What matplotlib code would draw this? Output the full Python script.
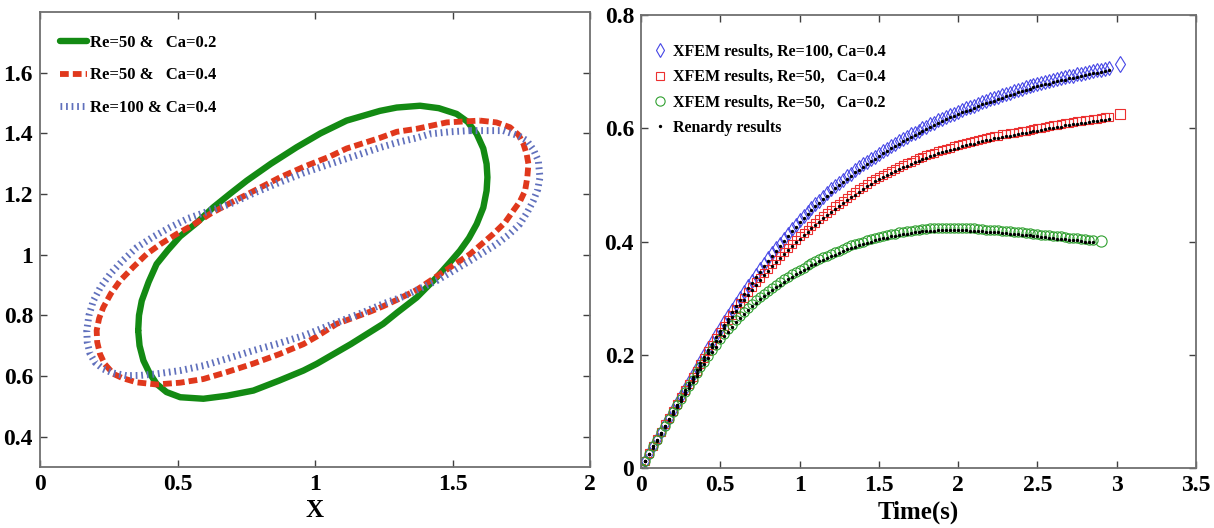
import matplotlib
matplotlib.use("Agg")
import matplotlib.pyplot as plt

plt.rcParams['font.family'] = ['Liberation Serif', 'DejaVu Serif']
plt.rcParams['font.weight'] = 'bold'

# ---------------- left panel: drop shapes ----------------
green_x = [0.357, 0.362, 0.376, 0.398, 0.424, 0.460, 0.510, 0.594, 0.680, 0.776, 0.870, 0.958, 1.006, 1.130, 1.248,
           1.300, 1.370, 1.442, 1.491, 1.527, 1.560, 1.588, 1.612, 1.624, 1.627, 1.624, 1.612, 1.588, 1.555, 1.515,
           1.450, 1.382, 1.297, 1.236, 1.115, 1.020, 0.933, 0.840, 0.752, 0.690, 0.630, 0.570, 0.509, 0.465, 0.424,
           0.395, 0.370, 0.360, 0.357]
green_y = [0.750, 0.700, 0.651, 0.610, 0.574, 0.547, 0.530, 0.525, 0.535, 0.552, 0.585, 0.618, 0.640, 0.705, 0.772,
           0.810, 0.859, 0.925, 0.975, 1.013, 1.055, 1.101, 1.155, 1.211, 1.255, 1.299, 1.350, 1.398, 1.438, 1.464,
           1.483, 1.491, 1.485, 1.474, 1.442, 1.400, 1.354, 1.300, 1.244, 1.200, 1.156, 1.105, 1.060, 1.015, 0.969,
           0.910, 0.848, 0.800, 0.750]

red_x = [1.600, 1.660, 1.709, 1.740, 1.758, 1.770, 1.776, 1.772, 1.764, 1.745, 1.721, 1.690, 1.648, 1.564, 1.455,
         1.370, 1.300, 1.248, 1.200, 1.079, 1.006, 0.958, 0.870, 0.776, 0.680, 0.594, 0.510, 0.424, 0.352, 0.300,
         0.267, 0.235, 0.218, 0.208, 0.206, 0.215, 0.230, 0.258, 0.291, 0.340, 0.388, 0.440, 0.497, 0.560, 0.618,
         0.691, 0.788, 0.873, 0.960, 1.055, 1.115, 1.236, 1.297, 1.370, 1.479, 1.600]
red_y = [1.442, 1.436, 1.420, 1.395, 1.365, 1.330, 1.299, 1.255, 1.211, 1.175, 1.145, 1.105, 1.068, 1.002, 0.936,
         0.884, 0.852, 0.830, 0.812, 0.772, 0.730, 0.705, 0.672, 0.641, 0.613, 0.590, 0.578, 0.572, 0.579, 0.593,
         0.607, 0.640, 0.673, 0.712, 0.750, 0.790, 0.826, 0.872, 0.914, 0.960, 1.002, 1.036, 1.068, 1.100, 1.134,
         1.170, 1.215, 1.255, 1.290, 1.324, 1.350, 1.385, 1.405, 1.415, 1.436, 1.442]

blue_x = [1.564, 1.685, 1.740, 1.770, 1.795, 1.812, 1.818, 1.810, 1.794, 1.772, 1.745, 1.705, 1.661, 1.564, 1.442,
          1.321, 1.248, 1.176, 1.055, 1.006, 0.958, 0.870, 0.776, 0.680, 0.594, 0.510, 0.424, 0.365, 0.315, 0.265,
          0.230, 0.200, 0.182, 0.172, 0.170, 0.178, 0.194, 0.220, 0.255, 0.300, 0.352, 0.410, 0.473, 0.540, 0.618,
          0.691, 0.780, 0.873, 0.960, 1.055, 1.150, 1.236, 1.300, 1.370, 1.418, 1.490, 1.564]
blue_y = [1.409, 1.409, 1.392, 1.376, 1.345, 1.310, 1.255, 1.215, 1.178, 1.140, 1.101, 1.066, 1.035, 0.980, 0.914,
          0.862, 0.838, 0.810, 0.768, 0.750, 0.733, 0.708, 0.684, 0.657, 0.634, 0.618, 0.607, 0.602, 0.601, 0.610,
          0.623, 0.645, 0.673, 0.710, 0.750, 0.800, 0.848, 0.893, 0.936, 0.980, 1.024, 1.058, 1.090, 1.120, 1.145,
          1.167, 1.204, 1.239, 1.270, 1.299, 1.327, 1.353, 1.370, 1.385, 1.398, 1.405, 1.409]

left_labels = ['Re=50 &   Ca=0.2', 'Re=50 &   Ca=0.4', 'Re=100 & Ca=0.4']
left_xticks = [0, 0.5, 1, 1.5, 2]
left_xticklabels = ['0', '0.5', '1', '1.5', '2']
left_yticks = [0.4, 0.6, 0.8, 1.0, 1.2, 1.4, 1.6]
left_yticklabels = ['0.4', '0.6', '0.8', '1', '1.2', '1.4', '1.6']

# ---------------- right panel: deformation vs time ----------------
T = [0.000, 0.025, 0.050, 0.075, 0.100, 0.125, 0.150, 0.175, 0.200, 0.225,
     0.250, 0.275, 0.300, 0.325, 0.350, 0.375, 0.400, 0.425, 0.450, 0.475,
     0.500, 0.525, 0.550, 0.575, 0.600, 0.625, 0.650, 0.675, 0.700, 0.725,
     0.750, 0.775, 0.800, 0.825, 0.850, 0.875, 0.900, 0.925, 0.950, 0.975,
     1.000, 1.025, 1.050, 1.075, 1.100, 1.125, 1.150, 1.175, 1.200, 1.225,
     1.250, 1.275, 1.300, 1.325, 1.350, 1.375, 1.400, 1.425, 1.450, 1.475,
     1.500, 1.525, 1.550, 1.575, 1.600, 1.625, 1.650, 1.675, 1.700, 1.725,
     1.750, 1.775, 1.800, 1.825, 1.850, 1.875, 1.900, 1.925, 1.950, 1.975,
     2.000, 2.025, 2.050, 2.075, 2.100, 2.125, 2.150, 2.175, 2.200, 2.225,
     2.250, 2.275, 2.300, 2.325, 2.350, 2.375, 2.400, 2.425, 2.450, 2.475,
     2.500, 2.525, 2.550, 2.575, 2.600, 2.625, 2.650, 2.675, 2.700, 2.725,
     2.750, 2.775, 2.800, 2.825, 2.850, 2.875, 2.900, 2.925, 2.950]

xfem_re100_ca04 = [0.000, 0.013, 0.026, 0.039, 0.052, 0.064, 0.077, 0.089, 0.102, 0.114,
                   0.127, 0.139, 0.152, 0.164, 0.176, 0.188, 0.200, 0.212, 0.223, 0.235,
                   0.246, 0.257, 0.268, 0.279, 0.290, 0.300, 0.311, 0.321, 0.331, 0.341,
                   0.351, 0.360, 0.370, 0.379, 0.388, 0.396, 0.405, 0.413, 0.422, 0.430,
                   0.438, 0.445, 0.452, 0.459, 0.466, 0.472, 0.479, 0.485, 0.492, 0.498,
                   0.504, 0.509, 0.515, 0.520, 0.526, 0.531, 0.536, 0.541, 0.546, 0.550,
                   0.555, 0.560, 0.564, 0.569, 0.573, 0.577, 0.581, 0.585, 0.589, 0.592,
                   0.596, 0.600, 0.603, 0.607, 0.610, 0.614, 0.617, 0.620, 0.623, 0.626,
                   0.629, 0.632, 0.635, 0.637, 0.640, 0.643, 0.646, 0.648, 0.651, 0.653,
                   0.656, 0.658, 0.661, 0.663, 0.665, 0.668, 0.670, 0.672, 0.674, 0.676,
                   0.678, 0.680, 0.682, 0.683, 0.685, 0.687, 0.689, 0.690, 0.692, 0.693,
                   0.695, 0.696, 0.698, 0.699, 0.701, 0.702, 0.703, 0.705, 0.706]
xfem_re50_ca04 = [0.000, 0.013, 0.026, 0.039, 0.052, 0.064, 0.077, 0.089, 0.101, 0.113,
                  0.125, 0.137, 0.149, 0.161, 0.172, 0.184, 0.195, 0.207, 0.218, 0.229,
                  0.240, 0.251, 0.261, 0.271, 0.281, 0.291, 0.300, 0.310, 0.319, 0.328,
                  0.336, 0.344, 0.352, 0.360, 0.367, 0.375, 0.382, 0.389, 0.396, 0.403,
                  0.409, 0.415, 0.421, 0.427, 0.433, 0.439, 0.445, 0.451, 0.456, 0.462,
                  0.467, 0.472, 0.477, 0.482, 0.487, 0.492, 0.497, 0.502, 0.506, 0.510,
                  0.514, 0.518, 0.521, 0.525, 0.528, 0.532, 0.535, 0.538, 0.541, 0.544,
                  0.547, 0.550, 0.552, 0.555, 0.557, 0.560, 0.562, 0.564, 0.566, 0.568,
                  0.570, 0.572, 0.574, 0.576, 0.577, 0.579, 0.581, 0.583, 0.584, 0.586,
                  0.587, 0.589, 0.590, 0.591, 0.592, 0.594, 0.595, 0.596, 0.597, 0.599,
                  0.600, 0.601, 0.602, 0.604, 0.605, 0.606, 0.607, 0.609, 0.610, 0.611,
                  0.612, 0.613, 0.614, 0.615, 0.616, 0.617, 0.618, 0.619, 0.620]
xfem_re50_ca02 = [0.000, 0.013, 0.025, 0.038, 0.050, 0.063, 0.075, 0.087, 0.099, 0.111,
                  0.122, 0.134, 0.145, 0.156, 0.167, 0.178, 0.188, 0.198, 0.208, 0.218,
                  0.228, 0.237, 0.245, 0.253, 0.261, 0.269, 0.276, 0.283, 0.290, 0.296,
                  0.302, 0.308, 0.313, 0.318, 0.323, 0.328, 0.333, 0.338, 0.342, 0.346,
                  0.350, 0.354, 0.358, 0.362, 0.365, 0.369, 0.372, 0.375, 0.378, 0.381,
                  0.384, 0.387, 0.390, 0.393, 0.395, 0.398, 0.400, 0.402, 0.404, 0.406,
                  0.408, 0.410, 0.411, 0.413, 0.414, 0.416, 0.417, 0.418, 0.419, 0.420,
                  0.421, 0.422, 0.422, 0.423, 0.423, 0.424, 0.424, 0.424, 0.424, 0.424,
                  0.424, 0.424, 0.424, 0.423, 0.423, 0.422, 0.422, 0.421, 0.421, 0.420,
                  0.420, 0.419, 0.419, 0.418, 0.417, 0.417, 0.416, 0.415, 0.415, 0.414,
                  0.413, 0.412, 0.412, 0.411, 0.410, 0.409, 0.409, 0.408, 0.407, 0.406,
                  0.406, 0.405, 0.404, 0.403, 0.403]

# last (isolated) XFEM markers
end_t = [3.02, 3.02, 2.90]
end_v = [0.713, 0.625, 0.401]

renardy_re100_ca04 = [0.000, 0.012, 0.025, 0.038, 0.050, 0.062, 0.075, 0.087, 0.100, 0.112,
                      0.125, 0.137, 0.150, 0.161, 0.173, 0.185, 0.196, 0.208, 0.219, 0.231,
                      0.242, 0.253, 0.264, 0.275, 0.286, 0.296, 0.307, 0.317, 0.327, 0.337,
                      0.347, 0.356, 0.366, 0.375, 0.384, 0.392, 0.401, 0.409, 0.418, 0.426,
                      0.434, 0.441, 0.448, 0.455, 0.462, 0.468, 0.475, 0.481, 0.488, 0.494,
                      0.500, 0.505, 0.511, 0.516, 0.522, 0.527, 0.532, 0.537, 0.542, 0.546,
                      0.551, 0.556, 0.560, 0.565, 0.569, 0.573, 0.577, 0.581, 0.585, 0.588,
                      0.592, 0.596, 0.599, 0.603, 0.606, 0.610, 0.613, 0.616, 0.619, 0.622,
                      0.625, 0.628, 0.631, 0.633, 0.636, 0.639, 0.642, 0.644, 0.647, 0.649,
                      0.652, 0.654, 0.657, 0.659, 0.661, 0.664, 0.666, 0.668, 0.670, 0.672,
                      0.674, 0.676, 0.678, 0.679, 0.681, 0.683, 0.685, 0.686, 0.688, 0.689,
                      0.691, 0.692, 0.694, 0.695, 0.697, 0.698, 0.699, 0.701, 0.702]
renardy_re50_ca04 = [0.000, 0.012, 0.025, 0.038, 0.050, 0.062, 0.075, 0.087, 0.099, 0.111,
                     0.122, 0.134, 0.146, 0.157, 0.168, 0.180, 0.191, 0.203, 0.214, 0.225,
                     0.236, 0.247, 0.257, 0.267, 0.277, 0.287, 0.296, 0.306, 0.315, 0.324,
                     0.332, 0.340, 0.348, 0.356, 0.363, 0.371, 0.378, 0.385, 0.392, 0.399,
                     0.405, 0.411, 0.417, 0.423, 0.429, 0.435, 0.441, 0.447, 0.452, 0.458,
                     0.463, 0.468, 0.473, 0.478, 0.483, 0.488, 0.493, 0.498, 0.502, 0.506,
                     0.510, 0.514, 0.517, 0.521, 0.524, 0.528, 0.531, 0.534, 0.537, 0.540,
                     0.543, 0.546, 0.548, 0.551, 0.553, 0.556, 0.558, 0.560, 0.562, 0.564,
                     0.566, 0.568, 0.570, 0.572, 0.573, 0.575, 0.577, 0.579, 0.580, 0.582,
                     0.583, 0.585, 0.586, 0.587, 0.588, 0.590, 0.591, 0.592, 0.593, 0.595,
                     0.596, 0.597, 0.598, 0.600, 0.601, 0.602, 0.603, 0.605, 0.606, 0.607,
                     0.608, 0.609, 0.610, 0.611, 0.612, 0.613, 0.614, 0.615, 0.616]
renardy_re50_ca02 = [0.000, 0.012, 0.024, 0.036, 0.048, 0.060, 0.072, 0.084, 0.096, 0.107,
                     0.118, 0.130, 0.141, 0.152, 0.163, 0.174, 0.184, 0.194, 0.204, 0.214,
                     0.224, 0.233, 0.241, 0.249, 0.257, 0.265, 0.272, 0.279, 0.286, 0.292,
                     0.298, 0.304, 0.309, 0.314, 0.319, 0.324, 0.329, 0.334, 0.338, 0.342,
                     0.346, 0.350, 0.354, 0.358, 0.361, 0.365, 0.368, 0.371, 0.374, 0.377,
                     0.380, 0.383, 0.386, 0.389, 0.391, 0.394, 0.396, 0.398, 0.400, 0.402,
                     0.404, 0.406, 0.407, 0.409, 0.410, 0.412, 0.413, 0.414, 0.415, 0.416,
                     0.417, 0.418, 0.418, 0.419, 0.419, 0.420, 0.420, 0.420, 0.420, 0.420,
                     0.420, 0.420, 0.420, 0.419, 0.419, 0.418, 0.418, 0.417, 0.417, 0.416,
                     0.416, 0.415, 0.415, 0.414, 0.413, 0.413, 0.412, 0.411, 0.411, 0.410,
                     0.409, 0.408, 0.408, 0.407, 0.406, 0.405, 0.405, 0.404, 0.403, 0.402,
                     0.402, 0.401, 0.400, 0.399, 0.399]

right_labels = ['XFEM results, Re=100, Ca=0.4', 'XFEM results, Re=50,   Ca=0.4',
                'XFEM results, Re=50,   Ca=0.2', 'Renardy results']
right_xticks = [0, 0.5, 1, 1.5, 2, 2.5, 3, 3.5]
right_xticklabels = ['0', '0.5', '1', '1.5', '2', '2.5', '3', '3.5']
right_yticks = [0, 0.2, 0.4, 0.6, 0.8]
right_yticklabels = ['0', '0.2', '0.4', '0.6', '0.8']

# ---------------- figure ----------------
fig = plt.figure(figsize=(12.14, 5.28), dpi=100)
axL = fig.add_axes([40 / 1214, 61 / 528, 550 / 1214, 455 / 528])
axR = fig.add_axes([641 / 1214, 60 / 528, 555 / 1214, 453 / 528])

spine_col = '#707070'
for ax in (axL, axR):
    for s in ax.spines.values():
        s.set_color(spine_col)
        s.set_linewidth(1.3)
    ax.tick_params(direction='in', top=True, right=True, length=5, width=1, color='#404040',
                   labelsize=17, pad=5)

axL.plot(green_x, green_y, color='#138a13', lw=4.6, solid_capstyle='round', solid_joinstyle='round',
         label=left_labels[0])
axL.plot(red_x, red_y, color='#e0381c', lw=4.2, linestyle=(0, (1.5, 0.7)), dash_capstyle='butt',
         label=left_labels[1])
axL.plot(blue_x, blue_y, color='#6070bc', lw=5.0, linestyle=(0, (0.25, 0.55)), dash_capstyle='butt',
         label=left_labels[2])
axL.set_xlim(0, 2)
axL.set_ylim(0.3, 1.8)
axL.set_xticks(left_xticks)
axL.set_xticklabels(left_xticklabels)
axL.set_yticks(left_yticks)
axL.set_yticklabels(left_yticklabels)
axL.set_xlabel('X', fontsize=18, fontweight='bold', labelpad=3)
axL.legend(loc='upper left', frameon=False, fontsize=12, handlelength=1.65, handletextpad=0.15,
           labelspacing=1.0, borderaxespad=0, borderpad=0, bbox_to_anchor=(0.036, 0.95))

ms = 7
mew = 0.8
c_blue, c_red, c_green = '#4646e6', '#ec3030', '#30a030'
axR.plot(T[:len(xfem_re100_ca04)], xfem_re100_ca04, linestyle='none', marker='d', markersize=ms,
         markerfacecolor='none', markeredgecolor=c_blue, markeredgewidth=mew, label=right_labels[0])
axR.plot(T[:len(xfem_re50_ca04)], xfem_re50_ca04, linestyle='none', marker='s', markersize=ms * 0.85,
         markerfacecolor='none', markeredgecolor=c_red, markeredgewidth=mew, label=right_labels[1])
axR.plot(T[:len(xfem_re50_ca02)], xfem_re50_ca02, linestyle='none', marker='o', markersize=ms * 0.95,
         markerfacecolor='none', markeredgecolor=c_green, markeredgewidth=mew, label=right_labels[2])
axR.plot([end_t[0]], [end_v[0]], linestyle='none', marker='d', markersize=ms * 1.2, markerfacecolor='none',
         markeredgecolor=c_blue, markeredgewidth=mew)
axR.plot([end_t[1]], [end_v[1]], linestyle='none', marker='s', markersize=ms * 1.0, markerfacecolor='none',
         markeredgecolor=c_red, markeredgewidth=mew)
axR.plot([end_t[2]], [end_v[2]], linestyle='none', marker='o', markersize=ms * 1.15, markerfacecolor='none',
         markeredgecolor=c_green, markeredgewidth=mew)
axR.plot(T[:len(renardy_re100_ca04)], renardy_re100_ca04, linestyle='none', marker='.', markersize=2.8,
         color='black', label=right_labels[3])
axR.plot(T[:len(renardy_re50_ca04)], renardy_re50_ca04, linestyle='none', marker='.', markersize=2.8, color='black')
axR.plot(T[:len(renardy_re50_ca02)], renardy_re50_ca02, linestyle='none', marker='.', markersize=2.8, color='black')

axR.set_xlim(0, 3.5)
axR.set_ylim(0, 0.8)
axR.set_xticks(right_xticks)
axR.set_xticklabels(right_xticklabels)
axR.set_yticks(right_yticks)
axR.set_yticklabels(right_yticklabels)
axR.set_xlabel('Time(s)', fontsize=18, fontweight='bold', labelpad=3)
axR.legend(loc='upper left', frameon=False, fontsize=11.5, handlelength=0.8, handletextpad=0.45,
           labelspacing=0.58, borderaxespad=0, borderpad=0, bbox_to_anchor=(0.022, 0.936))

fig.savefig('out.png', dpi=100)
